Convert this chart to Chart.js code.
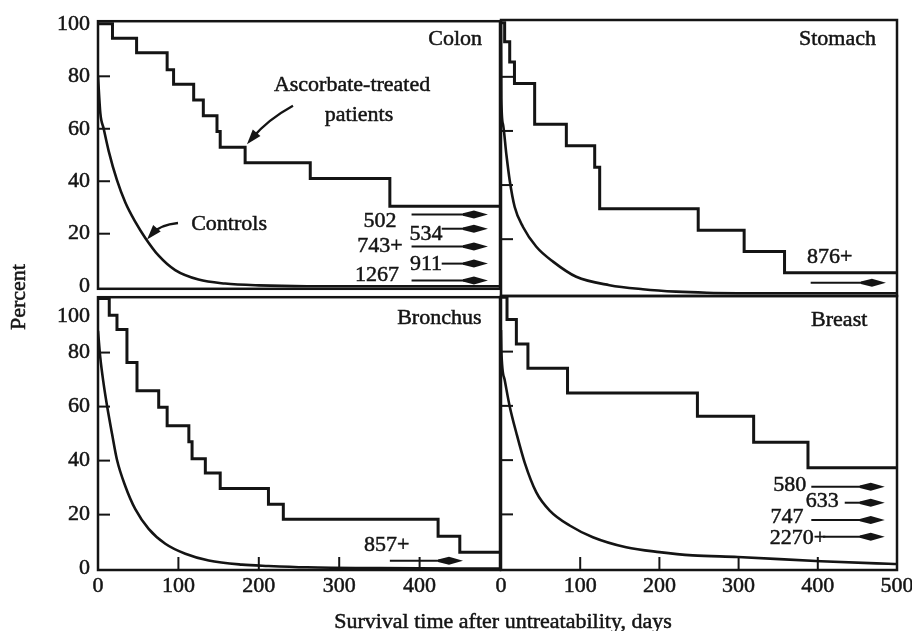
<!DOCTYPE html>
<html lang="en">
<head>
  <meta charset="UTF-8" />
  <title>Survival time after untreatability</title>
  <script src="https://cdn.jsdelivr.net/npm/chart.js@4"></script>
  <style>
    body {
      margin: 0;
      width: 912px;
      height: 631px;
      overflow: hidden;
      position: relative;
      background: #fff;
      color: #141414;
      font-family: "Liberation Serif", "Times New Roman", serif;
    }
    canvas { position: absolute; }
    .title {
      position: absolute;
      font-size: 22px;
      white-space: nowrap;
      -webkit-text-stroke: 0.5px #141414;
    }
    #yTitle { left: 18px; top: 297px; transform: translate(-50%, -50%) rotate(-90deg); }
    #xTitle { left: 503px; top: 621px; transform: translate(-50%, -50%); }
  </style>
</head>
<body>

  <canvas id="colon" width="520" height="310" style="left:0;top:0"></canvas>
  <canvas id="stomach" width="451" height="310" style="left:481px;top:0"></canvas>
  <canvas id="bronchus" width="520" height="340" style="left:0;top:276px"></canvas>
  <canvas id="breast" width="451" height="340" style="left:481px;top:276px"></canvas>

  <div class="title" id="yTitle">Percent</div>
  <div class="title" id="xTitle">Survival time after untreatability, days</div>

  <script>
    // axis ticks
    const dayTicks = [0, 100, 200, 300, 400, 500];
    const percentTicks = [0, 20, 40, 60, 80, 100];

    // Colon
    const colonAscDays = [0, 18, 48, 86, 94, 119, 131, 148, 152, 183, 264, 363, 500];
    const colonAscPct = [100, 94.5, 89, 82.5, 77, 71, 65, 59, 53, 47, 41, 30.5, 30.5];
    const colonCtrlDays = [0, 2.9, 7.1, 13.3, 23.6, 34, 46.4, 58.8, 75.5, 96, 125, 158, 200, 260, 500];
    const colonCtrlPct = [80, 66, 60, 51.5, 40.4, 31.9, 24.5, 18.4, 11.6, 6.1, 2.5, 1, 0.3, 0, 0];
    const colonSurvivors = ['502', '534', '743+', '911', '1267'];

    // Stomach
    const stomachAscDays = [0, 4.6, 11, 17, 42.5, 82.5, 118.3, 124.6, 249, 307, 358, 500];
    const stomachAscPct = [100, 93, 85.5, 77.5, 62.5, 54.5, 46.6, 31.2, 23.3, 15.4, 7.6, 7.6];
    const stomachCtrlDays = [0, 0.4, 2.5, 6.7, 11, 17.3, 27.8, 44.6, 65.7, 95, 137, 179, 221, 260, 350, 500];
    const stomachCtrlPct = [100, 72, 62.5, 51.5, 41.7, 31.9, 24.5, 17.2, 11.7, 6.1, 3, 1.5, 0.6, 0.2, 0, 0];
    const stomachSurvivors = ['876+'];

    // Bronchus
    const bronchusAscDays = [0, 14, 23.6, 36, 48.5, 75.5, 86, 113, 117, 133.5, 152, 212, 230.5, 423, 450, 500];
    const bronchusAscPct = [100, 93.8, 88.5, 76.3, 65.9, 59.8, 52.9, 47, 40.7, 35.4, 29.7, 23.8, 18.3, 12, 6.1, 6.1];
    const bronchusCtrlDays = [0, 2.9, 7, 11.2, 17.4, 23.6, 34, 46.4, 63, 83.7, 108.6, 137.7, 179, 212, 260, 350, 500];
    const bronchusCtrlPct = [88, 78, 68.4, 60.4, 50, 40.3, 30.5, 22, 14.7, 9.2, 5.5, 3, 1.5, 1, 0.5, 0.2, 0];
    const bronchusSurvivors = ['857+'];

    // Breast
    const breastAscDays = [0, 7.6, 19.4, 34, 84, 248, 319, 387.6, 500];
    const breastAscPct = [100, 91.8, 82.8, 73.9, 64.7, 56.2, 46.6, 37.2, 37.2];
    const breastCtrlDays = [0, 0.4, 4.6, 11, 19.4, 30, 44.6, 61.5, 86.7, 116, 158, 200, 242, 299, 404, 489, 500];
    const breastCtrlPct = [88, 80.6, 69.6, 59.8, 50, 39, 28.1, 21.4, 15.9, 11.6, 7.9, 6.1, 4.9, 4.3, 2.7, 1.8, 1.7];
    const breastSurvivors = ['580', '633', '747', '2270+'];

    const ink = '#141414';
    const serif = '"Liberation Serif", "Times New Roman", serif';

    const pairs = (xs, ys) => xs.map((d, i) => ({ x: d, y: ys[i] }));

    // draws the box, inward tick marks, labels and arrows of one panel
    const panelPlugin = {
      id: 'panel',
      afterDatasetsDraw(chart, args, opts) {
        const { ctx, chartArea: a, scales: { x, y } } = chart;
        const line = (x1, y1, x2, y2) => { ctx.beginPath(); ctx.moveTo(x1, y1); ctx.lineTo(x2, y2); ctx.stroke(); };
        const label = (text, px, py) => { ctx.fillText(text, px, py); ctx.lineWidth = 0.5; ctx.strokeText(text, px, py); };
        ctx.save();
        ctx.strokeStyle = ink;
        ctx.fillStyle = ink;
        ctx.lineWidth = 2.5;
        ctx.strokeRect(a.left, a.top, a.right - a.left, a.bottom - a.top);

        ctx.lineWidth = 2;
        (opts.yMarks || []).forEach(v => { const py = y.getPixelForValue(v); line(a.left, py, a.left + 12, py); });
        (opts.xMarks || []).forEach(v => { const px = x.getPixelForValue(v); line(px, a.bottom, px, a.bottom - 13); });

        ctx.font = '22px ' + serif;
        ctx.textBaseline = 'middle';
        if (opts.extraLabel) {
          ctx.textAlign = 'right';
          label(opts.extraLabel.text, a.left - 8, y.getPixelForValue(opts.extraLabel.value) + opts.extraLabel.dy);
        }
        (opts.texts || []).forEach(t => {
          ctx.textAlign = t.align || 'center';
          label(t.text, x.getPixelForValue(t.x), y.getPixelForValue(t.y));
        });

        // survivor arrows
        (opts.arrows || []).forEach(r => {
          const x1 = x.getPixelForValue(r.from), x2 = x.getPixelForValue(r.to), py = y.getPixelForValue(r.y);
          ctx.lineWidth = 2;
          line(x1, py, x2 - 20, py);
          ctx.beginPath();
          ctx.moveTo(x2, py);
          ctx.lineTo(x2 - 14, py - 4);
          ctx.lineTo(x2 - 25, py - 1.2);
          ctx.lineTo(x2 - 25, py + 1.2);
          ctx.lineTo(x2 - 14, py + 4);
          ctx.closePath();
          ctx.fill();
        });

        // curved pointer arrows
        (opts.pointers || []).forEach(p => {
          const sx = x.getPixelForValue(p.start[0]), sy = y.getPixelForValue(p.start[1]);
          const cx = x.getPixelForValue(p.ctrl[0]), cy = y.getPixelForValue(p.ctrl[1]);
          const ex = x.getPixelForValue(p.end[0]), ey = y.getPixelForValue(p.end[1]);
          const ang = Math.atan2(ey - cy, ex - cx);
          ctx.lineWidth = 2.4;
          ctx.beginPath();
          ctx.moveTo(sx, sy);
          ctx.quadraticCurveTo(cx, cy, ex - Math.cos(ang) * 8, ey - Math.sin(ang) * 8);
          ctx.stroke();
          ctx.beginPath();
          ctx.moveTo(ex, ey);
          ctx.lineTo(ex - Math.cos(ang) * 15 - Math.sin(ang) * 5, ey - Math.sin(ang) * 15 + Math.cos(ang) * 5);
          ctx.lineTo(ex - Math.cos(ang) * 15 + Math.sin(ang) * 5, ey - Math.sin(ang) * 15 - Math.cos(ang) * 5);
          ctx.closePath();
          ctx.fill();
        });
        ctx.restore();
      }
    };

    function makePanel(id, cfg) {
      const showX = cfg.xLabels.length > 0;
      const showY = cfg.yLabels.length > 0;
      const tickFont = { family: serif, size: 22 };
      return new Chart(document.getElementById(id), {
        type: 'line',
        data: {
          datasets: [
            {
              data: pairs(cfg.ctrlDays, cfg.ctrlPct),
              borderColor: ink,
              borderWidth: 2.6,
              pointRadius: 0,
              cubicInterpolationMode: 'monotone'
            },
            {
              data: pairs(cfg.ascDays, cfg.ascPct),
              borderColor: ink,
              borderWidth: 3,
              pointRadius: 0,
              stepped: true
            }
          ]
        },
        options: {
          responsive: false,
          animation: false,
          layout: { padding: cfg.padding },
          plugins: {
            legend: { display: false },
            tooltip: { enabled: false },
            panel: cfg.panel
          },
          scales: {
            x: {
              type: 'linear',
              min: 0,
              max: 500,
              display: showX,
              afterBuildTicks: s => { s.ticks = cfg.xLabels.map(v => ({ value: v })); },
              afterFit: s => { s.height = showX ? 30 : 0; },
              ticks: {
                autoSkip: false, maxRotation: 0, padding: 3, color: ink, font: tickFont,
                textStrokeColor: ink, textStrokeWidth: 0.5
              },
              grid: { display: false, drawTicks: false },
              border: { display: false }
            },
            y: {
              min: cfg.yMin,
              max: cfg.yMax,
              display: showY,
              afterBuildTicks: s => { s.ticks = cfg.yLabels.map(v => ({ value: v })); },
              afterFit: s => { s.width = showY ? 98 : 0; },
              ticks: { padding: 8, color: ink, font: tickFont, textStrokeColor: ink, textStrokeWidth: 0.5 },
              grid: { display: false, drawTicks: false },
              border: { display: false }
            }
          }
        },
        plugins: [panelPlugin]
      });
    }

    const marks = [20, 40, 60, 80];

    makePanel('colon', {
      ascDays: colonAscDays, ascPct: colonAscPct,
      ctrlDays: colonCtrlDays, ctrlPct: colonCtrlPct,
      xLabels: [], yLabels: percentTicks, yMin: -1, yMax: 101,
      padding: { top: 20, right: 20, bottom: 14, left: 0 },
      panel: {
        yMarks: marks,
        texts: [
          { text: 'Colon', x: 477.6, y: 94, align: 'right' },
          { text: 'Ascorbate-treated', x: 316, y: 76.6 },
          { text: 'patients', x: 324.6, y: 65.1 },
          { text: 'Controls', x: 163, y: 23.8 },
          { text: colonSurvivors[0], x: 350.7, y: 24.9 },
          { text: colonSurvivors[1], x: 408, y: 19.7 },
          { text: colonSurvivors[2], x: 350.7, y: 15.3 },
          { text: colonSurvivors[3], x: 408, y: 8.3 },
          { text: colonSurvivors[4], x: 347, y: 4.3 }
        ],
        arrows: [
          { from: 390, to: 485, y: 27.3 },
          { from: 427.5, to: 485, y: 21.9 },
          { from: 390, to: 485, y: 15.1 },
          { from: 427.5, to: 485, y: 8.6 },
          { from: 390, to: 485, y: 2.2 }
        ],
        pointers: [
          { start: [242.5, 68.8], ctrl: [211, 63.5], end: [185.3, 54.1] },
          { start: [99.5, 24.1], ctrl: [77, 23.4], end: [61, 17.8] }
        ]
      }
    });

    makePanel('stomach', {
      ascDays: stomachAscDays, ascPct: stomachAscPct,
      ctrlDays: stomachCtrlDays, ctrlPct: stomachCtrlPct,
      xLabels: [], yLabels: [], yMin: -1, yMax: 101,
      padding: { top: 20, right: 35, bottom: 14, left: 20 },
      panel: {
        yMarks: marks,
        texts: [
          { text: 'Stomach', x: 473.5, y: 94, align: 'right' },
          { text: stomachSurvivors[0], x: 415, y: 13.5 }
        ],
        arrows: [{ from: 391, to: 486, y: 3.9 }]
      }
    });

    makePanel('bronchus', {
      ascDays: bronchusAscDays, ascPct: bronchusAscPct,
      ctrlDays: bronchusCtrlDays, ctrlPct: bronchusCtrlPct,
      xLabels: dayTicks.slice(0, 5), yLabels: percentTicks.slice(0, 5), yMin: -0.5, yMax: 100.5,
      padding: { top: 20, right: 20, bottom: 16, left: 0 },
      panel: {
        yMarks: marks,
        xMarks: [100, 200, 300, 400],
        extraLabel: { text: String(percentTicks[5]), value: 100, dy: 18 },
        texts: [
          { text: 'Bronchus', x: 477, y: 92.9, align: 'right' },
          { text: bronchusSurvivors[0], x: 359, y: 8.7 }
        ],
        arrows: [{ from: 363, to: 454, y: 2.9 }]
      }
    });

    makePanel('breast', {
      ascDays: breastAscDays, ascPct: breastAscPct,
      ctrlDays: breastCtrlDays, ctrlPct: breastCtrlPct,
      xLabels: dayTicks, yLabels: [], yMin: -0.5, yMax: 100.5,
      padding: { top: 20, right: 35, bottom: 16, left: 20 },
      panel: {
        yMarks: marks,
        xMarks: [100, 200, 300, 400],
        texts: [
          { text: 'Breast', x: 462.5, y: 91.6, align: 'right' },
          { text: breastSurvivors[0], x: 364.5, y: 30.8 },
          { text: breastSurvivors[1], x: 405.7, y: 24.7 },
          { text: breastSurvivors[2], x: 361, y: 19.1 },
          { text: breastSurvivors[3], x: 375, y: 11.2 }
        ],
        arrows: [
          { from: 391.8, to: 484.5, y: 30.2 },
          { from: 434, to: 484.5, y: 24.3 },
          { from: 391.8, to: 484.5, y: 17.9 },
          { from: 406.6, to: 484.5, y: 11.8 }
        ]
      }
    });
  </script>
</body>
</html>
